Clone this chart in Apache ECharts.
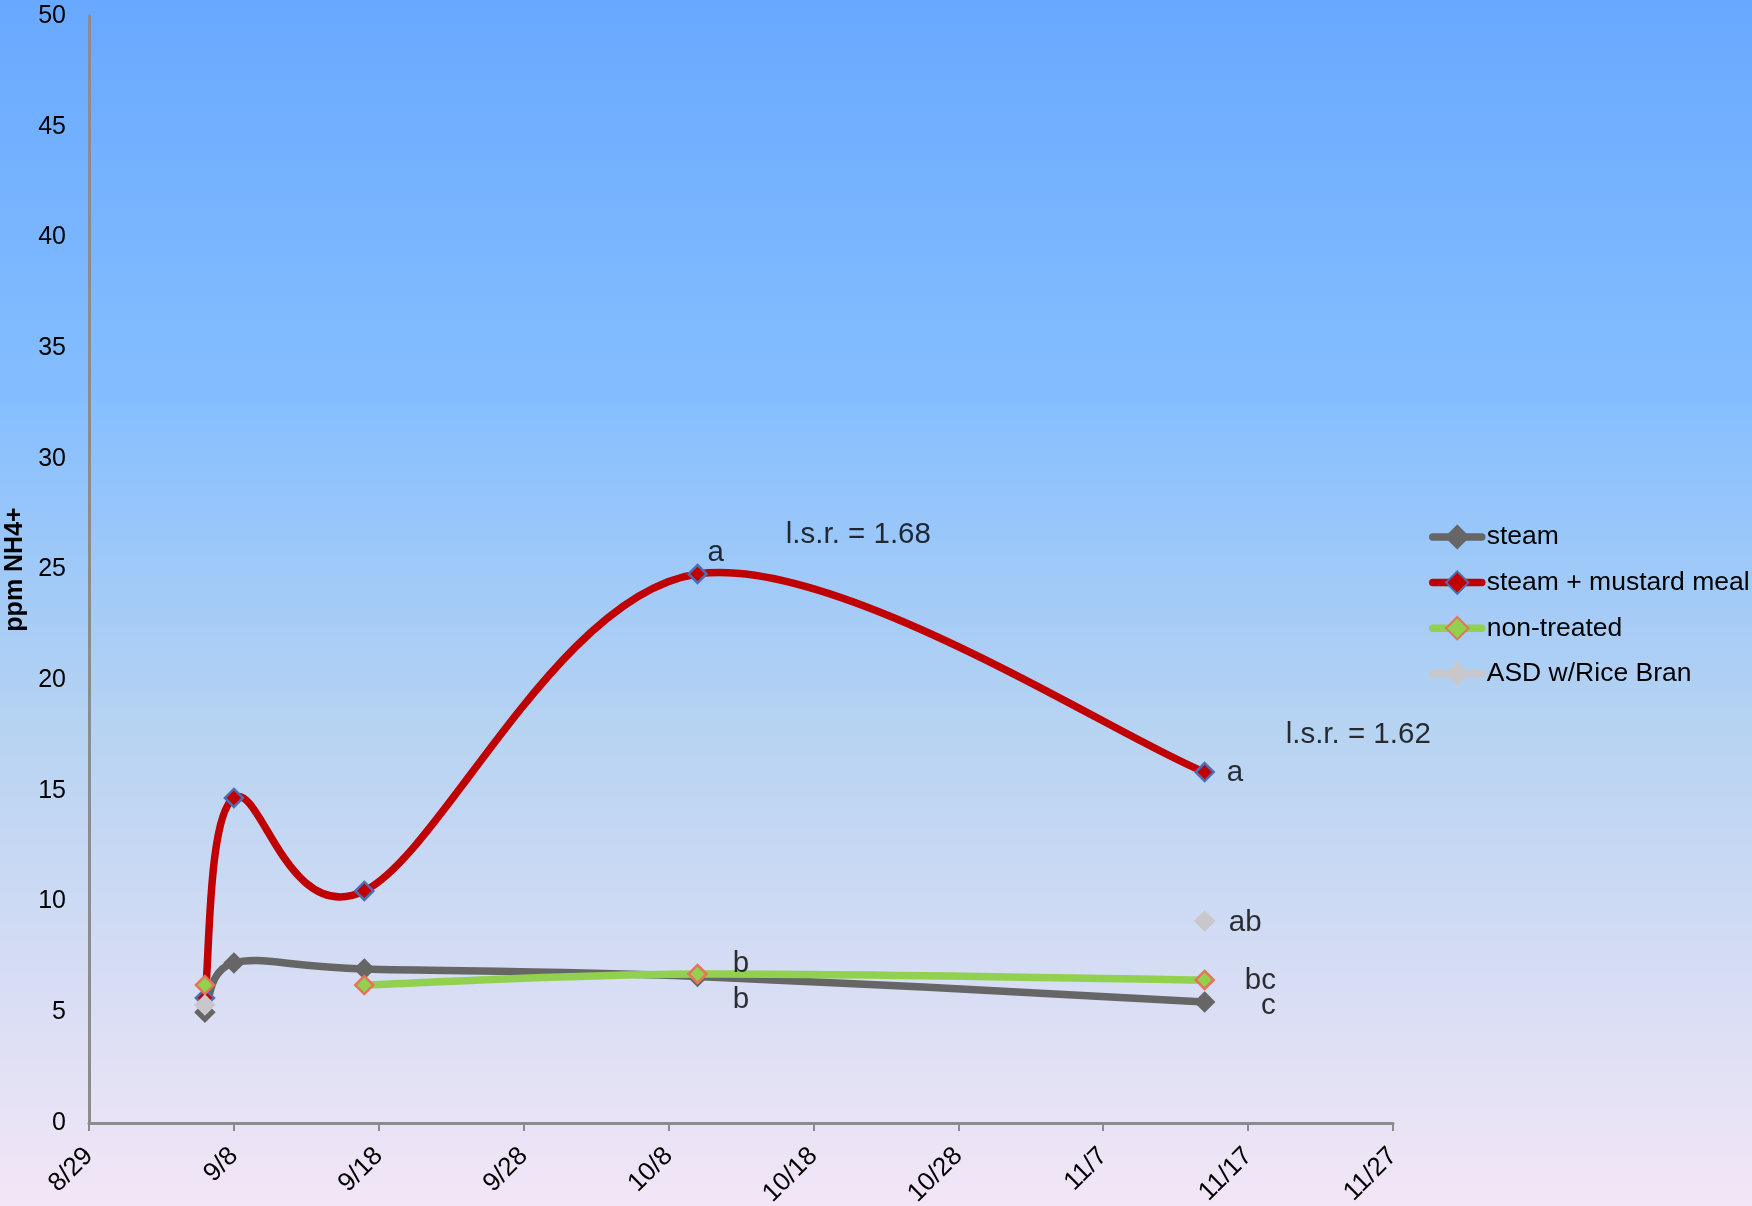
<!DOCTYPE html>
<html>
<head>
<meta charset="utf-8">
<script src="https://cdn.jsdelivr.net/npm/echarts@6/dist/echarts.min.js"></script>
<style>
html,body{margin:0;padding:0;}
#chart{width:1752px;height:1206px;}
</style>
</head>
<body>
<div id="chart"></div>
<script>
// ---- data ----
const startDate = '8/29';
const sampleDates = ['9/6', '9/8', '9/17', '10/10', '11/14'];
const steam = [5.0, 7.23, 6.96, 6.62, 5.47];
const steamMustard = [5.65, 14.68, 10.48, 24.8, 15.85];
const nonTreated = [6.23, null, 6.23, 6.73, 6.46];
const asdRiceBran = [5.33, null, null, null, 9.12];
const seriesNames = ['steam', 'steam + mustard meal', 'non-treated', 'ASD w/Rice Bran'];
const yTicks = [0, 50, 5];      // min, max, interval
const xTicks = [0, 90, 10];     // days from start: min, max, interval
// annotations: [days after start, value, text]
const annotations = [
  [43.25, 25.75, 'a'],
  [53.1, 26.55, 'l.s.r. = 1.68'],
  [87.6, 17.55, 'l.s.r. = 1.62'],
  [79.1, 15.8, 'a'],
  [79.8, 9.02, 'ab'],
  [80.85, 6.4, 'bc'],
  [81.4, 5.27, 'c'],
  [45.0, 7.17, 'b'],
  [45.0, 5.56, 'b']
];

// ---- helpers ----
const YEAR = 2013;
function toDate(s){ const [m,d] = s.split('/').map(Number); return new Date(YEAR, m-1, d); }
const base = toDate(startDate);
function dayOf(s){ return Math.round((toDate(s) - base)/86400000); }
function fmtDay(v){ const d = new Date(base.getTime() + v*86400000); return (d.getMonth()+1) + '/' + d.getDate(); }
function pairs(vals){ return sampleDates.map((s,i)=>[dayOf(s), vals[i]]); }

const FONT = "'Liberation Sans', Arial, sans-serif";
const LINE_W = 7.5;

const styles = [
  {line:'#666666', fill:'#666666', border:'#666666'},
  {line:'#C00000', fill:'#C00000', border:'#4F6DB3'},
  {line:'#92D050', fill:'#92D050', border:'#E8735A'},
  {line:'#C8C8CC', fill:'#C8C8CC', border:'#C8C8CC'}
];
const allVals = [steam, steamMustard, nonTreated, asdRiceBran];

// Excel-like smoothed line (Catmull-Rom style Bezier), built from data via api.coord
function makeCurveRenderer(vals, color){
  const data = pairs(vals);
  return function(params, api){
    if (params.dataIndex !== 0) return null;
    const runs = []; let cur = [];
    data.forEach(d => {
      if (d[1] == null) { if (cur.length) runs.push(cur); cur = []; }
      else cur.push(api.coord(d));
    });
    if (cur.length) runs.push(cur);
    const children = [];
    runs.forEach(pts => {
      for (let i = 0; i < pts.length - 1; i++){
        const p0 = pts[i-1] || pts[i], p1 = pts[i], p2 = pts[i+1], p3 = pts[i+2] || pts[i+1];
        children.push({
          type: 'bezierCurve',
          shape: {
            x1: p1[0], y1: p1[1], x2: p2[0], y2: p2[1],
            cpx1: p1[0] + (p2[0]-p0[0])/6, cpy1: p1[1] + (p2[1]-p0[1])/6,
            cpx2: p2[0] - (p3[0]-p1[0])/6, cpy2: p2[1] - (p3[1]-p1[1])/6
          },
          style: {fill: null, stroke: color, lineWidth: LINE_W, lineCap: 'round', lineJoin: 'round'}
        });
      }
    });
    return {type: 'group', children: children};
  };
}

const series = [];
allVals.forEach((vals, i) => {
  series.push({
    name: seriesNames[i] + ' curve',
    type: 'custom',
    coordinateSystem: 'cartesian2d',
    data: pairs(vals).filter(d => d[1] != null),
    encode: {x: 0, y: 1},
    renderItem: makeCurveRenderer(vals, styles[i].line),
    silent: true,
    animation: false,
    z: 2 + 2*i
  });
  series.push({
    name: seriesNames[i],
    type: 'line',
    data: pairs(vals),
    connectNulls: false,
    symbol: 'diamond',
    symbolSize: 18,
    showAllSymbol: true,
    lineStyle: {color: styles[i].line, width: LINE_W, opacity: 0},
    itemStyle: {color: styles[i].fill, borderColor: styles[i].border, borderWidth: 2.5},
    emphasis: {disabled: true},
    animation: false,
    z: 3 + 2*i
  });
});

series.push({
  name: 'annotations',
  type: 'scatter',
  data: annotations.map(a => ({value:[a[0], a[1]], name:a[2]})),
  symbolSize: 1,
  itemStyle: {color: 'rgba(0,0,0,0)'},
  label: {show: true, position: 'inside', formatter: p => p.name, color: '#000', fontSize: 29.5, fontFamily: FONT},
  silent: true,
  animation: false,
  z: 20
});

const chart = echarts.init(document.getElementById('chart'), null, {renderer: 'canvas'});
chart.setOption({
  animation: false,
  backgroundColor: {
    type: 'linear', x: 0, y: 0, x2: 0, y2: 1,
    colorStops: [
      {offset: 0, color: '#68A8FF'},
      {offset: 0.33, color: '#85BEFF'},
      {offset: 0.6, color: '#B6D3F2'},
      {offset: 1, color: '#F3E6F6'}
    ]
  },
  grid: {left: 89, top: 16, right: 359, bottom: 83, containLabel: false, outerBoundsMode: 'none'},
  legend: {
    data: seriesNames,
    orient: 'vertical',
    left: 1424,
    top: 518.5,
    itemWidth: 49,
    itemHeight: 28,
    itemGap: 18.6,
    lineStyle: {width: LINE_W, opacity: 1, cap: 'round'},
    textStyle: {fontSize: 26.5, fontFamily: FONT, color: '#000'},
    selectedMode: false
  },
  xAxis: {
    type: 'value',
    min: xTicks[0], max: xTicks[1], interval: xTicks[2],
    splitLine: {show: false},
    axisLine: {lineStyle: {color: '#8C8C8C', width: 3}},
    axisTick: {show: true, length: 8, lineStyle: {color: '#8C8C8C', width: 2}},
    axisLabel: {rotate: 45, formatter: fmtDay, fontSize: 26, fontFamily: FONT, color: '#000', margin: 29}
  },
  yAxis: {
    type: 'value',
    min: yTicks[0], max: yTicks[1], interval: yTicks[2],
    splitLine: {show: false},
    axisLine: {show: true, lineStyle: {color: '#8C8C8C', width: 3}},
    axisTick: {show: false},
    axisLabel: {fontSize: 25, fontFamily: FONT, color: '#000', margin: 23},
    name: 'ppm NH4+',
    nameLocation: 'middle',
    nameGap: 50,
    nameTextStyle: {fontSize: 25, fontWeight: 'bold', fontFamily: FONT, color: '#000'}
  },
  series: series
});
</script>
</body>
</html>
